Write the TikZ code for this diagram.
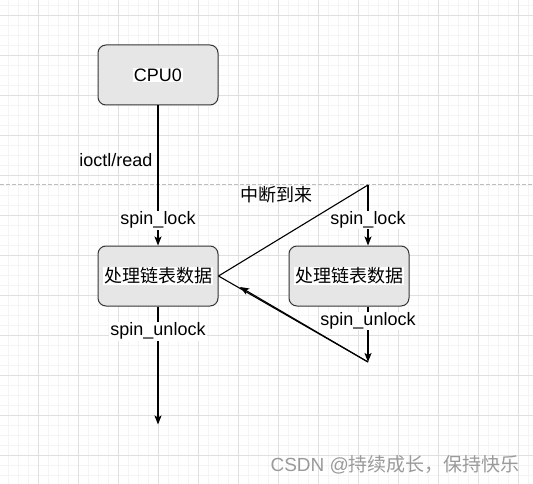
\documentclass[tikz,border=0pt]{standalone}
\usepackage{fontspec}
\setmainfont{Liberation Sans}
\newfontfamily\cjk{Noto Sans CJK SC}
\usepackage{tikz}
\usetikzlibrary{arrows.meta, positioning}
\definecolor{boxfill}{HTML}{E6E6E6}
\definecolor{boxline}{HTML}{363636}
\definecolor{gridmajor}{HTML}{E0E0E0}
\definecolor{gridminor}{HTML}{F4F4F4}
\definecolor{sepgray}{HTML}{BDBDBD}
\definecolor{wmgray}{HTML}{9A9A9A}
\tikzset {
    block/.style args = {#1}{
        draw = boxline,
        fill = boxfill,
        line width = 1pt,
        rounded corners = 8pt,
        minimum width = 120pt,
        minimum height = 60pt,
        label = {[tag]center:#1} % text sits on its own white patch
    },
    tag/.style = {
        fill = white,
        inner sep = 1pt
    },
    wire/.style = {
        draw,
        line width = 1.1pt
    },
    flow/.style = {
        wire,
        -{Stealth[length=9pt, width=7pt, inset=2pt]}
    },
    minor/.style = {draw = gridminor, line width = 0.8pt},
    major/.style = {draw = gridmajor, line width = 0.9pt},
    separator/.style = {draw = sepgray, line width = 0.8pt, dash pattern = on 4pt off 2pt},
    watermark/.style = {text = wmgray, font = \fontsize{19}{22}\selectfont}
}
\begin{document}
\begin{tikzpicture}[x=1pt, y=-1pt, font=\fontsize{18}{22}\selectfont]
        \useasboundingbox (0, 0) rectangle (533, 484);

        % Background : fine grid, coarse grid, dashed separator
        \foreach \gx in {0,...,52}
            \path [minor]   ({8.3+10*\gx}, 0)   --  ({8.3+10*\gx}, 484);
        \foreach \gy in {0,...,47}
            \path [minor]   (0, {5+10*\gy})     --  (533, {5+10*\gy});
        \foreach \gx in {0,...,12}
            \path [major]   ({38.3+40*\gx}, 0)  --  ({38.3+40*\gx}, 484);
        \foreach \gy in {0,...,11}
            \path [major]   (0, {15+40*\gy})    --  (533, {15+40*\gy});
        \path [separator]   (0, 184.3)          --  (533, 184.3);

        % First row : CPU0
        \node [block={CPU0}]                                    (cpu)   at (158, 75)    {};

        % Second row : the two list-processing blocks
        \node [block={\cjk 处理链表数据}, below=140pt of cpu]     (procL)     {};
        \node [block={\cjk 处理链表数据}, right=70pt of procL]    (procR)     {};

        % Free ends of the connectors
        \coordinate                             (irq)   at (368, 185);
        \coordinate                             (rend)  at (368, 362);
        \coordinate                             (back)  at (240, 287);
        \coordinate [below=118pt of procL]      (lend);

        % Loose texts
        \node                                   (irqtext)   at (276, 195)   {\cjk 中断到来};
        \node [watermark, anchor=west]          (csdn)      at (267, 465)   {CSDN @{\cjk 持续成长，保持快乐}};

        \draw [flow]    (cpu)   --  node [tag, pos=0.82] {spin\_lock}
                                    node [pos=0.39, left, inner sep=5pt] {ioctl/read}  (procL);
        \draw [flow]    (procL) --  node [tag, pos=0.21] {spin\_unlock}  (lend);

        \draw [wire]    (procL.east)        --  (irq);
        \draw [flow]    (irq)               --  node [tag, pos=0.58] {spin\_lock}    (irq |- procR.north);
        \draw [flow]    (irq |- procR.south) -- node [tag, pos=0.26] {spin\_unlock}  (rend);
        \draw [wire]    (procL.east)        --  (rend);
        \draw [flow]    (rend)              --  (back);
\end{tikzpicture}
\end{document}
